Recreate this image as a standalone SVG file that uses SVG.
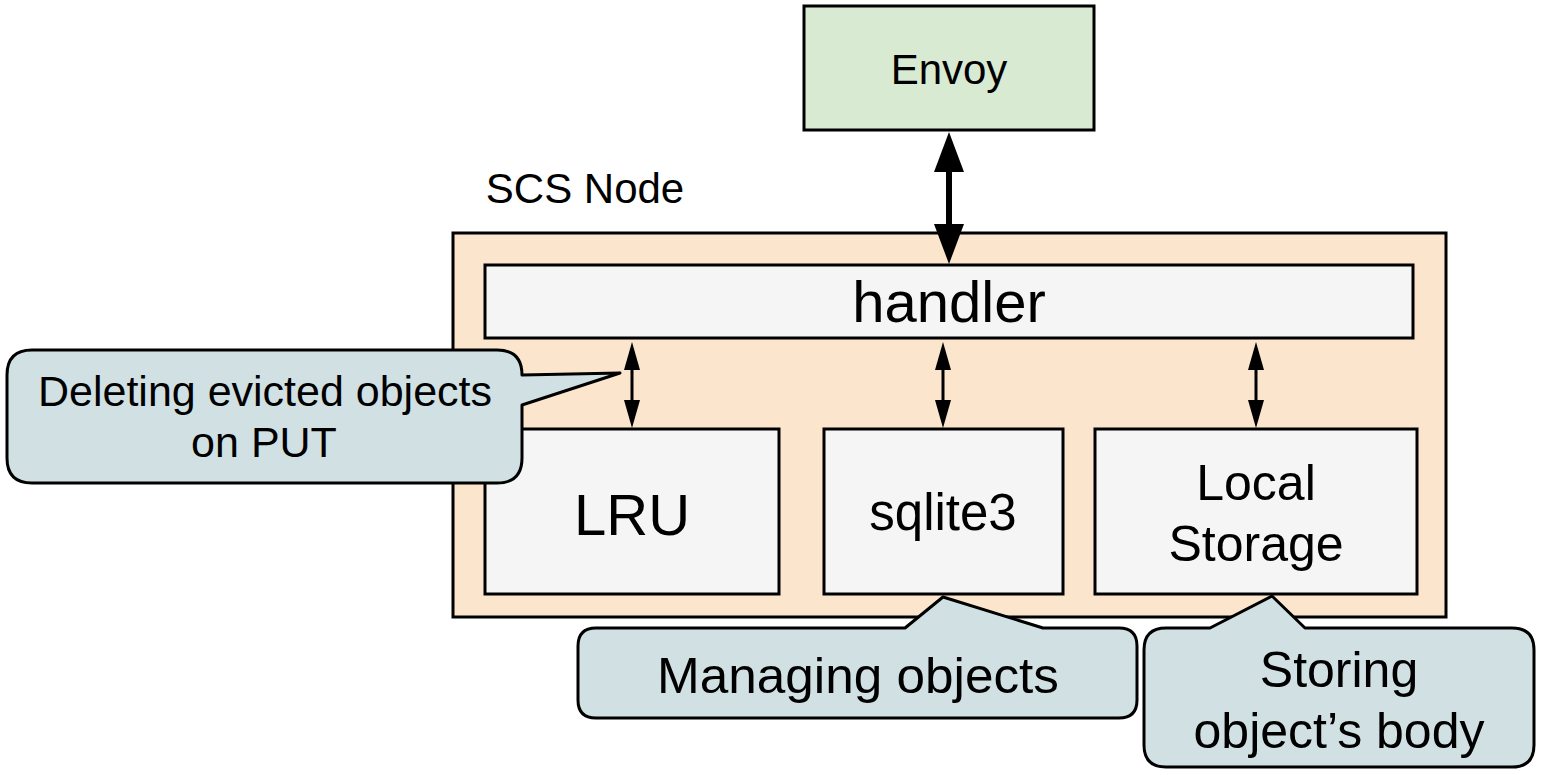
<svg xmlns="http://www.w3.org/2000/svg" width="1542" height="775" viewBox="0 0 1542 775">
<style>
text{font-family:"Liberation Sans",Arial,sans-serif;fill:#000;text-anchor:middle}
.box{stroke:#000;stroke-width:3}
.inner{fill:#f5f5f5}
.call{fill:#d0e0e3;stroke:#000;stroke-width:3;stroke-linejoin:round}
.ln{stroke:#000;fill:none}
</style>
<defs>
<marker id="bigH" viewBox="0 0 40 30" refX="0" refY="15" markerWidth="40" markerHeight="30" markerUnits="userSpaceOnUse" orient="auto-start-reverse"><path d="M0,0 L40,15 L0,30 z" fill="#000"/></marker>
<marker id="smH" viewBox="0 0 28 16" refX="0" refY="8" markerWidth="28" markerHeight="16" markerUnits="userSpaceOnUse" orient="auto-start-reverse"><path d="M0,0 L28,8 L0,16 z" fill="#000"/></marker>
</defs>
<rect width="1542" height="775" fill="#fff"/>
<g id="envoy">
<rect class="box" x="804" y="6" width="290" height="124" fill="#d9ead3"/>
<text x="949" y="84" font-size="42">Envoy</text>
</g>
<g id="scs-node">
<text x="585" y="203" font-size="42">SCS Node</text>
<rect class="box" x="453" y="233" width="993" height="384" fill="#fce5cd"/>
</g>
<g id="handler">
<rect class="box inner" x="485" y="265" width="928" height="73"/>
<text x="949" y="322" font-size="58">handler</text>
</g>
<g id="lru">
<rect class="box inner" x="485" y="429" width="294" height="165"/>
<text x="632" y="535" font-size="58">LRU</text>
</g>
<g id="sqlite3">
<rect class="box inner" x="824" y="429" width="239" height="165"/>
<text x="943" y="530" font-size="51">sqlite3</text>
</g>
<g id="local-storage">
<rect class="box inner" x="1095" y="429" width="322" height="165"/>
<text x="1256" y="500" font-size="50">Local</text>
<text x="1256" y="561" font-size="50">Storage</text>
</g>
<g id="connectors">
<line class="ln" x1="949" y1="172" x2="949" y2="224" stroke-width="6" marker-start="url(#bigH)" marker-end="url(#bigH)"/>
<line class="ln" x1="632" y1="370" x2="632" y2="400" stroke-width="3" marker-start="url(#smH)" marker-end="url(#smH)"/>
<line class="ln" x1="943" y1="370" x2="943" y2="400" stroke-width="3" marker-start="url(#smH)" marker-end="url(#smH)"/>
<line class="ln" x1="1256" y1="370" x2="1256" y2="400" stroke-width="3" marker-start="url(#smH)" marker-end="url(#smH)"/>
</g>
<g id="callout-delete">
<path class="call" d="M32,350 H497 Q522,350 522,375 L620,373 L522,405 V458 Q522,483 497,483 H32 Q7,483 7,458 V375 Q7,350 32,350 Z"/>
<text x="265" y="406" font-size="43" textLength="454" lengthAdjust="spacingAndGlyphs">Deleting evicted objects</text>
<text x="264" y="457" font-size="43">on PUT</text>
</g>
<g id="callout-manage">
<path class="call" d="M596,628 H905 L943,597 L1043,628 H1119 Q1137,628 1137,646 V700 Q1137,718 1119,718 H596 Q578,718 578,700 V646 Q578,628 596,628 Z"/>
<text x="858" y="693" font-size="50" textLength="402" lengthAdjust="spacingAndGlyphs">Managing objects</text>
</g>
<g id="callout-store">
<path class="call" d="M1166,628 H1210 L1272,596 L1305,628 H1512 Q1534,628 1534,650 V745 Q1534,767 1512,767 H1166 Q1144,767 1144,745 V650 Q1144,628 1166,628 Z"/>
<text x="1339" y="687" font-size="50">Storing</text>
<text x="1339" y="748" font-size="50">object’s body</text>
</g>
</svg>
